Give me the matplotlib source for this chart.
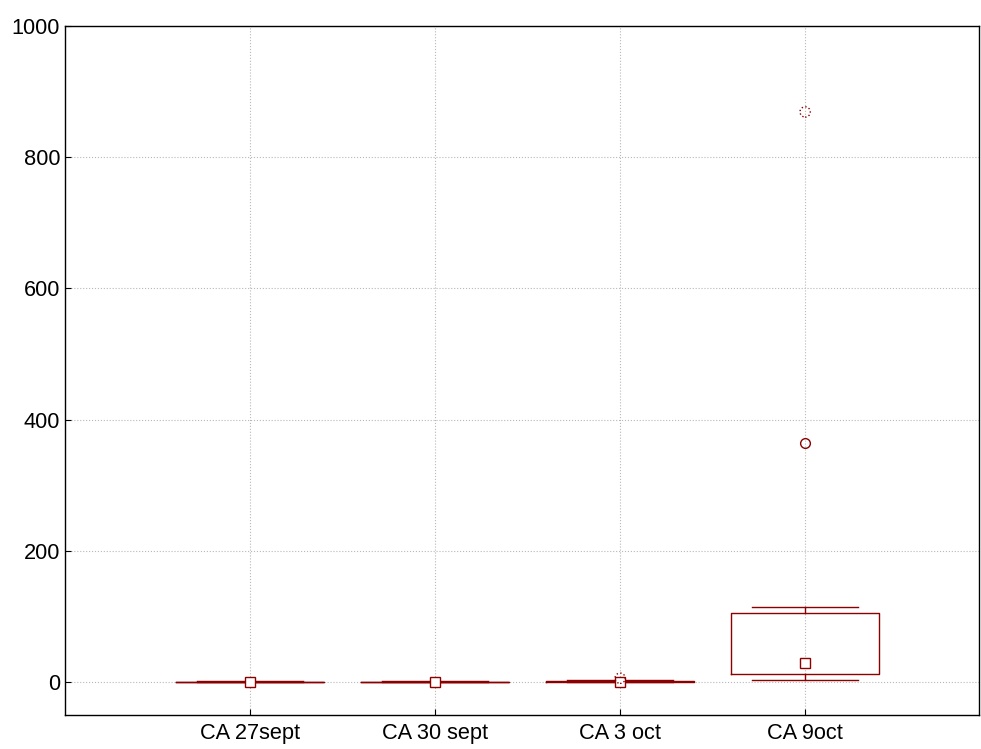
import matplotlib
matplotlib.use('Agg')
import matplotlib.pyplot as plt

plt.rcParams['font.family'] = ['Liberation Sans', 'DejaVu Sans']

cats = ['CA 27sept', 'CA 30 sept', 'CA 3 oct', 'CA 9oct']
medians = [0.5, 0.3, 0.8, 29]
q1 = [0.2, 0.1, 0.3, 12]
q3 = [0.8, 0.6, 2.5, 106]
whislo = [0, 0, 0, 3]
whishi = [1.5, 1.2, 3, 114]
outliers = [[], [], [], [365]]
extremes = [[], [], [6], [869]]

col = '#8b0000'

fig = plt.figure(figsize=(9.81, 7.49), dpi=100)
ax = fig.add_axes([0.0663, 0.0454, 0.9317, 0.9199])

stats = []
for i in range(len(cats)):
    stats.append({'med': medians[i], 'q1': q1[i], 'q3': q3[i],
                  'whislo': whislo[i], 'whishi': whishi[i],
                  'fliers': outliers[i], 'mean': medians[i], 'label': cats[i]})

pos = list(range(1, len(cats) + 1))
ax.bxp(stats, positions=pos, widths=0.8, capwidths=0.57, showmeans=True,
       boxprops=dict(color=col, linewidth=1.0),
       whiskerprops=dict(color=col, linewidth=1.0),
       capprops=dict(color=col, linewidth=1.0),
       medianprops=dict(linewidth=0),
       meanprops=dict(marker='s', markersize=6.5, markerfacecolor='white',
                      markeredgecolor=col, markeredgewidth=1.0, zorder=4),
       flierprops=dict(marker='o', markersize=7, markerfacecolor='none',
                       markeredgecolor=col, markeredgewidth=1.0))

ex_x = [pos[i] for i in range(len(cats)) for v in extremes[i]]
ex_y = [v for i in range(len(cats)) for v in extremes[i]]
ax.scatter(ex_x, ex_y, s=55, facecolors='none', edgecolors=col,
           linewidths=1.0, linestyles=':', zorder=5)

ax.set_xlim(0, 4.94)
ax.set_ylim(-50, 1000)
ax.set_yticks([0, 200, 400, 600, 800, 1000])
ax.set_xticks(pos)
ax.set_xticklabels(cats)
ax.tick_params(direction='in', length=4, labelsize=15.7, colors='black')
ax.tick_params(axis='y', pad=3.5)
ax.tick_params(axis='x', pad=6)
ax.grid(True, color='#b8b8b8', linestyle=':', linewidth=0.8)
ax.set_axisbelow(True)
for s in ax.spines.values():
    s.set_linewidth(1.0)
    s.set_color('black')

fig.savefig('out.png', dpi=100)
